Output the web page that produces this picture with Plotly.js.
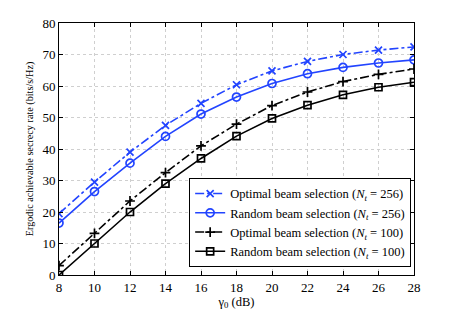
<!DOCTYPE html>
<html>
<head>
<meta charset="utf-8">
<script src="https://cdn.plot.ly/plotly-3.0.1.min.js"></script>
<style>html,body{margin:0;padding:0;background:#fff;}#chart{width:457px;height:311px;}</style>
</head>
<body>
<div id="chart"></div>
<script>
const gamma0 = [8, 10, 12, 14, 16, 18, 20, 22, 24, 26, 28];
const optimal256 = [19.5, 29.5, 39.0, 47.5, 54.5, 60.4, 64.8, 67.8, 70.0, 71.4, 72.4];
const random256 = [16.5, 26.5, 35.5, 44.0, 51.1, 56.5, 60.8, 63.9, 65.9, 67.3, 68.3];
const optimal100 = [3.0, 13.2, 23.5, 32.5, 41.0, 47.9, 53.8, 58.1, 61.4, 63.7, 65.4];
const random100 = [0.0, 10.0, 20.0, 29.0, 37.0, 44.1, 49.7, 53.9, 57.2, 59.6, 61.2];
const seriesNames = [
  'Optimal beam selection (<i>N</i><sub><i>t</i></sub> = 256)',
  'Random beam selection (<i>N</i><sub><i>t</i></sub> = 256)',
  'Optimal beam selection (<i>N</i><sub><i>t</i></sub> = 100)',
  'Random beam selection (<i>N</i><sub><i>t</i></sub> = 100)'
];
const xTicks = [8, 10, 12, 14, 16, 18, 20, 22, 24, 26, 28];
const yTicks = [0, 10, 20, 30, 40, 50, 60, 70, 80];

const blue = '#2244ff';
const black = '#000000';
function tr(y, name, color, dash, symbol, size) {
  return {
    x: gamma0, y: y, name: name, type: 'scatter', mode: 'lines+markers',
    line: {color: color, width: 1.6, dash: dash},
    marker: {symbol: symbol, size: size, color: color, line: {color: color, width: 1.7}}
  };
}
const data = [
  tr(optimal256, seriesNames[0], blue, 'dashdot', 'x-thin-open', 7),
  tr(random256, seriesNames[1], blue, 'solid', 'circle-open', 8),
  tr(optimal100, seriesNames[2], black, 'dashdot', 'cross-thin-open', 7),
  tr(random100, seriesNames[3], black, 'solid', 'square-open', 7)
];
const fam = 'Liberation Serif, Times New Roman, serif';
const layout = {
  width: 457, height: 311,
  margin: {l: 59, r: 43, t: 23, b: 36},
  paper_bgcolor: '#fff', plot_bgcolor: '#fff',
  font: {family: fam, size: 12, color: '#000'},
  showlegend: true,
  xaxis: {
    range: [8, 28], tickvals: xTicks, ticktext: xTicks.map(String),
    showline: true, linecolor: '#000', linewidth: 1, mirror: 'ticks',
    ticks: 'inside', ticklen: 4, tickcolor: '#000',
    showgrid: true, gridcolor: '#cfcfcf', griddash: 'dot', gridwidth: 1,
    zeroline: false, tickfont: {family: fam, size: 13, color: '#000'},
    title: {text: 'γ<sub>0</sub> (dB)', font: {family: fam, size: 12.5, color: '#000'}, standoff: 3}
  },
  yaxis: {
    range: [0, 80], tickvals: yTicks, ticktext: yTicks.map(String),
    showline: true, linecolor: '#000', linewidth: 1, mirror: 'ticks',
    ticks: 'inside', ticklen: 4, tickcolor: '#000',
    showgrid: true, gridcolor: '#cfcfcf', griddash: 'dot', gridwidth: 1,
    zeroline: false, tickfont: {family: fam, size: 13, color: '#000'},
    title: {text: 'Ergodic achievable secrecy rate (bits/s/Hz)', font: {family: fam, size: 10.2, color: '#000'}, standoff: 6}
  },
  legend: {
    x: 0.992, y: 0.032, xanchor: 'right', yanchor: 'bottom',
    bgcolor: '#fff', bordercolor: '#000', borderwidth: 1,
    font: {family: fam, size: 12.5, color: '#000'},
    itemwidth: 30, tracegroupgap: 0
  }
};
Plotly.newPlot('chart', data, layout, {displayModeBar: false, staticPlot: true});
</script>
</body>
</html>
